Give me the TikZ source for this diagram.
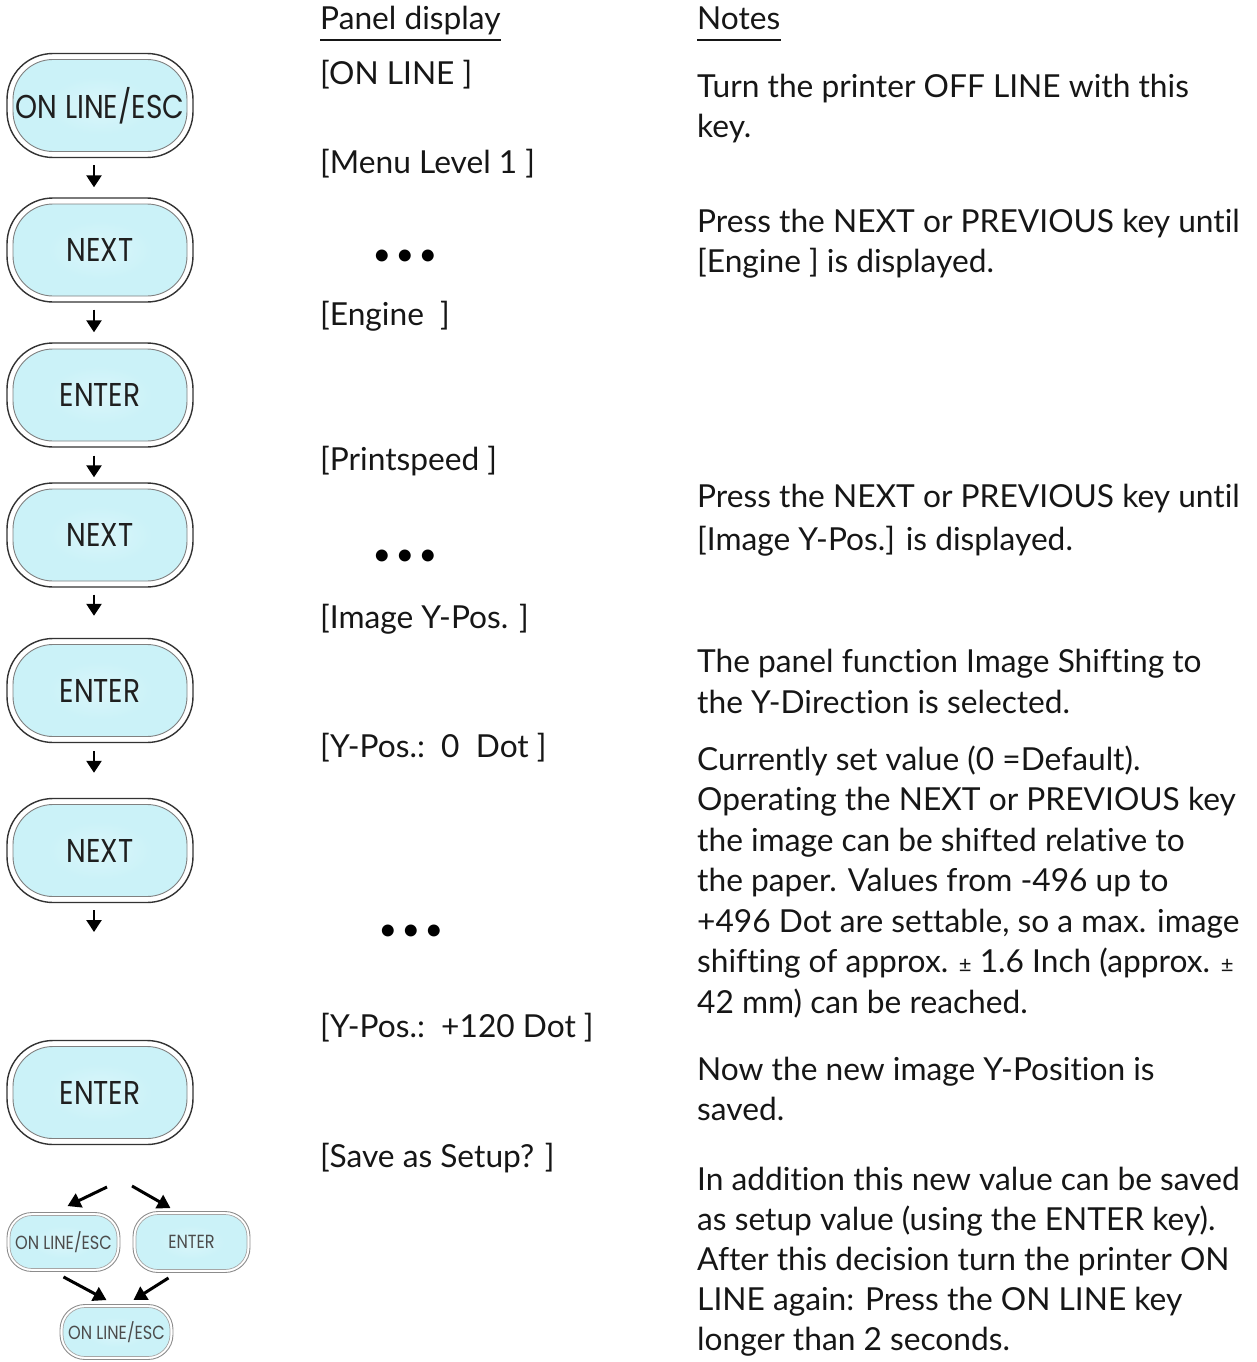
\documentclass[tikz,border=0pt]{standalone}
\usepackage{fontspec}
\setmainfont{Lato}[Ligatures=NoCommon]
\newfontfamily\btnfont{Poppins}
\usetikzlibrary{arrows.meta}
\definecolor{btncyan}{RGB}{203,242,248}
\definecolor{txtcol}{RGB}{22,22,22}
\pgfdeclareradialshading{btnshade}{\pgfpoint{0bp}{0bp}}{color(0bp)=(btncyan!70!white); color(14bp)=(btncyan); color(38bp)=(btncyan); color(50bp)=(btncyan!35!white)}
\newcommand{\bt}[1]{\scalebox{0.85}[1]{#1}}
\newcommand{\dotrow}{\makebox[23pt]{•}\makebox[23pt]{•}\makebox[23pt]{•}}
\begin{document}
\begin{tikzpicture}[x=1pt,y=-1pt,
  txt/.style={anchor=base west,inner sep=0pt,text=txtcol,font=\fontsize{31.7}{40}\selectfont},
  dots/.style={inner sep=0pt,text=black,font=\fontsize{32}{40}\selectfont},
  bigbtn/.style={rectangle,rounded corners=46pt,minimum width=186pt,minimum height=104pt,
    draw=black!80,line width=1.4pt,fill=white,inner sep=0pt,
    font=\btnfont\fontsize{33}{35}\selectfont,text=black!88,
    path picture={\path[draw=black!50,line width=0.9pt,shading=btnshade,rounded corners=40pt]
      ([shift={(6,6)}]path picture bounding box.north west) rectangle
      ([shift={(-6,-6)}]path picture bounding box.south east);}},
  smallbtn/.style={rectangle,rounded corners=25pt,draw=black!45,line width=0.9pt,fill=white,inner sep=0pt,
    font=\btnfont\fontsize{19}{21}\selectfont,text=black!70,
    path picture={\path[draw=black!35,line width=0.7pt,shading=btnshade,rounded corners=22pt]
      ([shift={(3,3)}]path picture bounding box.north west) rectangle
      ([shift={(-3,-3)}]path picture bounding box.south east);}},
  arr/.style={line width=2.6pt,-{Triangle[width=15pt,length=12pt]}},
  sarr/.style={line width=3pt,-{Triangle[width=15pt,length=13pt]}}
]
\path[use as bounding box] (0,0) rectangle (1257,1362);

% headers
\node[txt] (h1) at (320,30) {Panel display};
\node[txt] (h2) at (697,30) {Notes};
\draw[line width=1.8pt,txtcol] ([shift={(0,10)}]h1.base west) -- ([shift={(0,10)}]h1.base east);
\draw[line width=1.8pt,txtcol] ([shift={(0,10)}]h2.base west) -- ([shift={(0,10)}]h2.base east);

% buttons
\node[bigbtn] (b1) at (100,105.5) {\bt{ON LINE/ESC}};
\node[bigbtn] (b2) at (100,250) {\bt{NEXT}};
\node[bigbtn] (b3) at (100,395) {\bt{ENTER}};
\node[bigbtn] (b4) at (100,535) {\bt{NEXT}};
\node[bigbtn] (b5) at (100,690.5) {\bt{ENTER}};
\node[bigbtn] (b6) at (100,850.5) {\bt{NEXT}};
\node[bigbtn] (b7) at (100,1092.5) {\bt{ENTER}};

\draw[arr,shorten <=7pt,shorten >=10pt] ([xshift=-6]b1.south) -- ([xshift=-6]b2.north);
\draw[arr,shorten <=7pt,shorten >=10pt] ([xshift=-6]b2.south) -- ([xshift=-6]b3.north);
\draw[arr,shorten <=8pt,shorten >=5pt] ([xshift=-6]b3.south) -- ([xshift=-6]b4.north);
\draw[arr,shorten <=7pt,shorten >=22pt] ([xshift=-6]b4.south) -- ([xshift=-6]b5.north);
\draw[arr,shorten <=8pt,shorten >=25pt] ([xshift=-6]b5.south) -- ([xshift=-6]b6.north);
\coordinate (e6) at (94,932);
\draw[arr,shorten <=7pt] ([xshift=-6]b6.south) -- (e6);

% small buttons
\node[smallbtn,minimum width=113pt,minimum height=59pt] (sL) at (63.5,1242) {\bt{ON LINE/ESC}};
\node[smallbtn,minimum width=117pt,minimum height=61pt] (sR) at (191.5,1242) {\bt{ENTER}};
\node[smallbtn,minimum width=113pt,minimum height=55pt] (sB) at (116.5,1332) {\bt{ON LINE/ESC}};
\coordinate (t1) at (107,1187);
\coordinate (t2) at (132,1186);
\draw[sarr] (t1) -- ([shift={(4,-6)}]sL.north);
\draw[sarr] (t2) -- ([shift={(-21,-3)}]sR.north);
\draw[sarr] ([shift={(0,5)}]sL.south) -- ([shift={(-10,-4)}]sB.north);
\draw[sarr] ([shift={(-23,5)}]sR.south) -- ([shift={(17,-4)}]sB.north);

% panel display column
\node[txt] (p1) at (320,85) {[ON LINE ]};
\node[txt] (p2) at (320,173) {[Menu Level 1 ]};
\node[dots] (d1) at (405,258) {\dotrow};
\node[txt] (p3) at (320,325) {[Engine~~]};
\node[txt] (p4) at (320,470) {[Printspeed ]};
\node[dots] (d2) at (405,558) {\dotrow};
\node[txt] (p5) at (320,628) {[Image Y-Pos. ]};
\node[txt] (p6) at (320,757) {[Y-Pos.:~~0~~Dot ]};
\node[dots] (d3) at (411,933) {\dotrow};
\node[txt] (p7) at (320,1037) {[Y-Pos.:~~+120 Dot ]};
\node[txt] (p8) at (320,1167) {[Save as Setup? ]};

% notes column
\node[txt] (n1) at (697,98) {Turn the printer OFF LINE with this};
\node[txt] (n2) at (697,138) {key.};
\node[txt] (n3) at (697,232) {Press the NEXT or PREVIOUS key until};
\node[txt] (n4) at (697,272) {[Engine ] is displayed.};
\node[txt] (n5) at (697,507) {Press the NEXT or PREVIOUS key until};
\node[txt] (n6) at (697,550) {[Image Y-Pos.] is displayed.};
\node[txt] (n7) at (697,672) {The panel function Image Shifting to};
\node[txt] (n8) at (697,713) {the Y-Direction is selected.};
\node[txt] (n9) at (697,770) {Currently set value (0 =Default).};
\node[txt] (n10) at (697,810) {Operating the NEXT or PREVIOUS key};
\node[txt] (n11) at (697,851) {the image can be shifted relative to};
\node[txt] (n12) at (697,891) {the paper. Values from -496 up to};
\node[txt] (n13) at (697,932) {+496 Dot are settable, so a max. image};
\node[txt] (n14) at (697,972) {shifting of approx. {\fontsize{22}{22}\selectfont±} 1.6 Inch (approx. {\fontsize{22}{22}\selectfont±}};
\node[txt] (n15) at (697,1013) {42 mm) can be reached.};
\node[txt] (n16) at (697,1080) {Now the new image Y-Position is};
\node[txt] (n17) at (697,1120) {saved.};
\node[txt] (n18) at (697,1190) {In addition this new value can be saved};
\node[txt] (n19) at (697,1230) {as setup value (using the ENTER key).};
\node[txt] (n20) at (697,1270) {After this decision turn the printer ON};
\node[txt] (n21) at (697,1310) {LINE again: Press the ON LINE key};
\node[txt] (n22) at (697,1350) {longer than 2 seconds.};
\end{tikzpicture}
\end{document}
